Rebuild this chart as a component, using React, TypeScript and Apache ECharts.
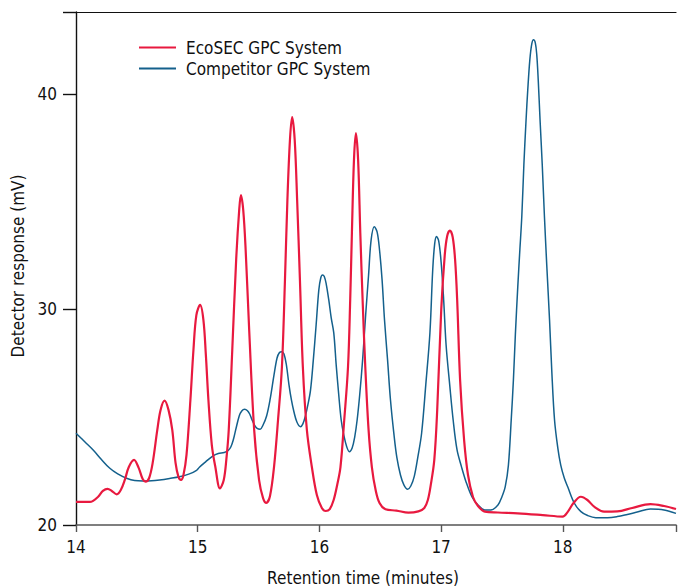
import React, { useEffect, useRef } from "react";
import * as echarts from "echarts";

const seriesNames = ["EcoSEC GPC System", "Competitor GPC System"];
const xTicks = [14, 15, 16, 17, 18];
const yTicks = [20, 30, 40];

// EcoSEC GPC System: [retention time (min), response (mV)]
const ecoSEC: number[][] = [
  [14.0, 21.07], [14.115, 21.07], [14.18, 21.3], [14.221, 21.58], [14.259, 21.68], [14.294, 21.58],
  [14.335, 21.42], [14.368, 21.62], [14.401, 22.09], [14.434, 22.69], [14.477, 23.02], [14.515, 22.65],
  [14.548, 22.13], [14.572, 22.01], [14.601, 22.18], [14.63, 22.88], [14.668, 24.41], [14.695, 25.34],
  [14.728, 25.77], [14.76, 25.34], [14.791, 24.41], [14.818, 22.88], [14.842, 22.23], [14.863, 22.09],
  [14.883, 22.32], [14.908, 23.25], [14.94, 25.8], [14.965, 28.12], [14.989, 29.74], [15.02, 30.21],
  [15.047, 29.51], [15.067, 27.89], [15.088, 25.8], [15.116, 23.71], [15.145, 22.69], [15.183, 21.7],
  [15.214, 22.09], [15.235, 23.02], [15.255, 24.41], [15.284, 28.12], [15.316, 32.3], [15.341, 34.62],
  [15.355, 35.31], [15.374, 34.62], [15.394, 32.76], [15.423, 29.05], [15.464, 24.41], [15.504, 22.09],
  [15.537, 21.25], [15.564, 21.03], [15.594, 21.35], [15.627, 22.69], [15.66, 24.87], [15.692, 27.33],
  [15.717, 31.37], [15.737, 35.08], [15.758, 37.87], [15.776, 38.92], [15.797, 37.87], [15.817, 35.08],
  [15.84, 31.37], [15.864, 27.33], [15.897, 24.41], [15.938, 22.69], [15.979, 21.39], [16.02, 20.79],
  [16.052, 20.65], [16.085, 20.74], [16.117, 21.16], [16.146, 21.86], [16.173, 22.69], [16.204, 24.87],
  [16.235, 27.33], [16.253, 30.44], [16.267, 33.55], [16.284, 36.94], [16.3, 38.18], [16.318, 36.94],
  [16.336, 33.55], [16.355, 30.44], [16.377, 27.33], [16.404, 24.41], [16.431, 22.69], [16.462, 21.62],
  [16.494, 21.02], [16.543, 20.73], [16.633, 20.67], [16.731, 20.57], [16.813, 20.63], [16.862, 20.79],
  [16.891, 21.16], [16.915, 21.86], [16.944, 23.02], [16.968, 25.34], [17.001, 29.98], [17.03, 32.53],
  [17.05, 33.41], [17.072, 33.66], [17.095, 33.36], [17.115, 32.3], [17.132, 30.44], [17.156, 26.73],
  [17.189, 23.94], [17.221, 22.32], [17.262, 21.3], [17.303, 20.88], [17.36, 20.62], [17.467, 20.58],
  [17.63, 20.54], [17.835, 20.46], [17.998, 20.39], [18.039, 20.6], [18.088, 21.02], [18.148, 21.31],
  [18.202, 21.16], [18.26, 20.84], [18.339, 20.62], [18.448, 20.63], [18.57, 20.79], [18.72, 20.97],
  [18.832, 20.88], [18.93, 20.74],
];

// Competitor GPC System
const competitor: number[][] = [
  [14.0, 24.26], [14.074, 23.85], [14.141, 23.48], [14.209, 23.04], [14.278, 22.63], [14.343, 22.37],
  [14.415, 22.17], [14.482, 22.06], [14.55, 22.04], [14.621, 22.05], [14.687, 22.09], [14.769, 22.16],
  [14.85, 22.24], [14.932, 22.37], [14.987, 22.52], [15.014, 22.68], [15.063, 22.92], [15.123, 23.2],
  [15.169, 23.32], [15.218, 23.36], [15.251, 23.46], [15.273, 23.63], [15.292, 23.94], [15.312, 24.41],
  [15.341, 25.06], [15.362, 25.29], [15.386, 25.37], [15.407, 25.31], [15.427, 25.15], [15.447, 24.87],
  [15.468, 24.62], [15.488, 24.48], [15.513, 24.44], [15.537, 24.64], [15.566, 25.06], [15.594, 25.8],
  [15.627, 26.96], [15.652, 27.75], [15.672, 28.0], [15.69, 28.04], [15.709, 27.93], [15.729, 27.42],
  [15.75, 26.5], [15.77, 25.8], [15.791, 25.24], [15.815, 24.78], [15.845, 24.56], [15.864, 24.69],
  [15.885, 25.06], [15.905, 25.57], [15.927, 26.26], [15.95, 27.66], [15.973, 29.28], [15.995, 30.9],
  [16.011, 31.46], [16.025, 31.6], [16.04, 31.53], [16.056, 31.18], [16.077, 30.44], [16.097, 29.61],
  [16.118, 28.91], [16.138, 27.42], [16.159, 26.03], [16.179, 24.87], [16.2, 24.18], [16.225, 23.62],
  [16.246, 23.4], [16.269, 23.57], [16.29, 24.08], [16.31, 24.87], [16.331, 26.03], [16.355, 27.66],
  [16.38, 29.74], [16.404, 31.6], [16.425, 33.23], [16.451, 33.84], [16.474, 33.6], [16.494, 32.76],
  [16.515, 31.37], [16.535, 29.51], [16.56, 27.66], [16.584, 25.8], [16.613, 24.18], [16.637, 23.11],
  [16.666, 22.32], [16.694, 21.86], [16.725, 21.66], [16.751, 21.81], [16.78, 22.27], [16.809, 23.16],
  [16.84, 24.27], [16.874, 26.5], [16.908, 28.91], [16.931, 31.83], [16.947, 33.04], [16.962, 33.38],
  [16.98, 33.18], [17.0, 32.2], [17.021, 30.44], [17.041, 28.35], [17.072, 26.42], [17.099, 24.87],
  [17.131, 23.48], [17.167, 22.71], [17.205, 22.0], [17.254, 21.3], [17.303, 20.93], [17.358, 20.7],
  [17.41, 20.7], [17.467, 20.93], [17.499, 21.3], [17.527, 21.78], [17.553, 22.78], [17.576, 24.87],
  [17.594, 26.73], [17.61, 28.82], [17.63, 31.06], [17.647, 32.76], [17.663, 34.31], [17.68, 36.71],
  [17.698, 38.79], [17.712, 40.19], [17.729, 41.58], [17.745, 42.32], [17.759, 42.51], [17.774, 42.37],
  [17.786, 41.81], [17.798, 40.65], [17.813, 38.79], [17.831, 36.71], [17.849, 34.31], [17.868, 32.06],
  [17.891, 29.51], [17.909, 27.19], [17.932, 24.87], [17.959, 23.57], [17.983, 22.78], [18.012, 22.18],
  [18.041, 21.76], [18.095, 21.01], [18.149, 20.62], [18.204, 20.44], [18.271, 20.34], [18.367, 20.34],
  [18.448, 20.39], [18.53, 20.49], [18.611, 20.6], [18.72, 20.74], [18.832, 20.7], [18.93, 20.54],
];

const FONT = "'Liberation Sans Narrow', 'DejaVu Sans Condensed', 'Arial Narrow', sans-serif";
const RED = "#e8193f";
const BLUE = "#14608c";

export default function App() {
  const ref = useRef<HTMLDivElement>(null);
  useEffect(() => {
    document.body.style.margin = "0";
    const chart = echarts.init(ref.current!, null, { renderer: "svg" });
    chart.setOption({
      animation: false,
      backgroundColor: "#ffffff",
      textStyle: { fontFamily: FONT },
      grid: { left: 76, right: 0, top: 12, bottom: 61, containLabel: false },
      legend: {
        orient: "vertical",
        left: 134,
        top: 34,
        itemWidth: 37,
        itemHeight: 2,
        itemGap: 4,
        data: [
          { name: seriesNames[0], icon: "rect", itemStyle: { color: RED } },
          { name: seriesNames[1], icon: "rect", itemStyle: { color: BLUE } },
        ],
        textStyle: { fontFamily: FONT, fontSize: 17, color: "#111", padding: [0, 0, 0, 5] },
      },
      xAxis: [
        {
          type: "value",
          min: 14,
          max: 18.93,
          interval: 1,
          splitLine: { show: false },
          axisLine: { show: true, onZero: false, lineStyle: { color: "#555", width: 1.6 } },
          axisTick: { show: true, length: 7, lineStyle: { color: "#555", width: 1.4 } },
          axisLabel: {
            margin: 13,
            fontSize: 17,
            color: "#111",
            fontFamily: FONT,
            formatter: (v: number) => (xTicks.includes(v) ? String(v) : ""),
          },
        },
        {
          type: "value",
          position: "top",
          min: 14,
          max: 18.93,
          axisLine: { show: true, onZero: false, lineStyle: { color: "#111", width: 1.2 } },
          axisTick: { show: false },
          axisLabel: { show: false },
          splitLine: { show: false },
        },
      ],
      yAxis: {
        type: "value",
        min: 20,
        max: 43.8,
        interval: 10,
        splitLine: { show: false },
        axisLine: { show: true, onZero: false, lineStyle: { color: "#111", width: 1.4 } },
        axisTick: { show: true, length: 13, lineStyle: { color: "#111", width: 1.4 } },
        axisLabel: {
          margin: 19,
          fontSize: 17,
          color: "#111",
          fontFamily: FONT,
          formatter: (v: number) => (yTicks.includes(v) ? String(v) : ""),
        },
      },
      graphic: [
        {
          type: "text",
          x: 363,
          y: 586,
          style: {
            text: "Retention time (minutes)",
            fontSize: 17,
            fontFamily: FONT,
            fill: "#111",
            align: "center",
            verticalAlign: "bottom",
          },
        },
        {
          type: "text",
          x: 18,
          y: 266,
          rotation: Math.PI / 2,
          style: {
            text: "Detector response (mV)",
            fontSize: 17,
            fontFamily: FONT,
            fill: "#111",
            align: "center",
            verticalAlign: "middle",
          },
        },
      ],
      series: [
        {
          name: seriesNames[1],
          type: "line",
          data: competitor,
          showSymbol: false,
          symbol: "none",
          smooth: 0.35,
          lineStyle: { color: BLUE, width: 1.5 },
          itemStyle: { color: BLUE },
        },
        {
          name: seriesNames[0],
          type: "line",
          data: ecoSEC,
          showSymbol: false,
          symbol: "none",
          smooth: 0.35,
          lineStyle: { color: RED, width: 2.2 },
          itemStyle: { color: RED },
        },
      ],
    });
    return () => chart.dispose();
  }, []);
  return <div ref={ref} style={{ width: 679, height: 586 }} />;
}
